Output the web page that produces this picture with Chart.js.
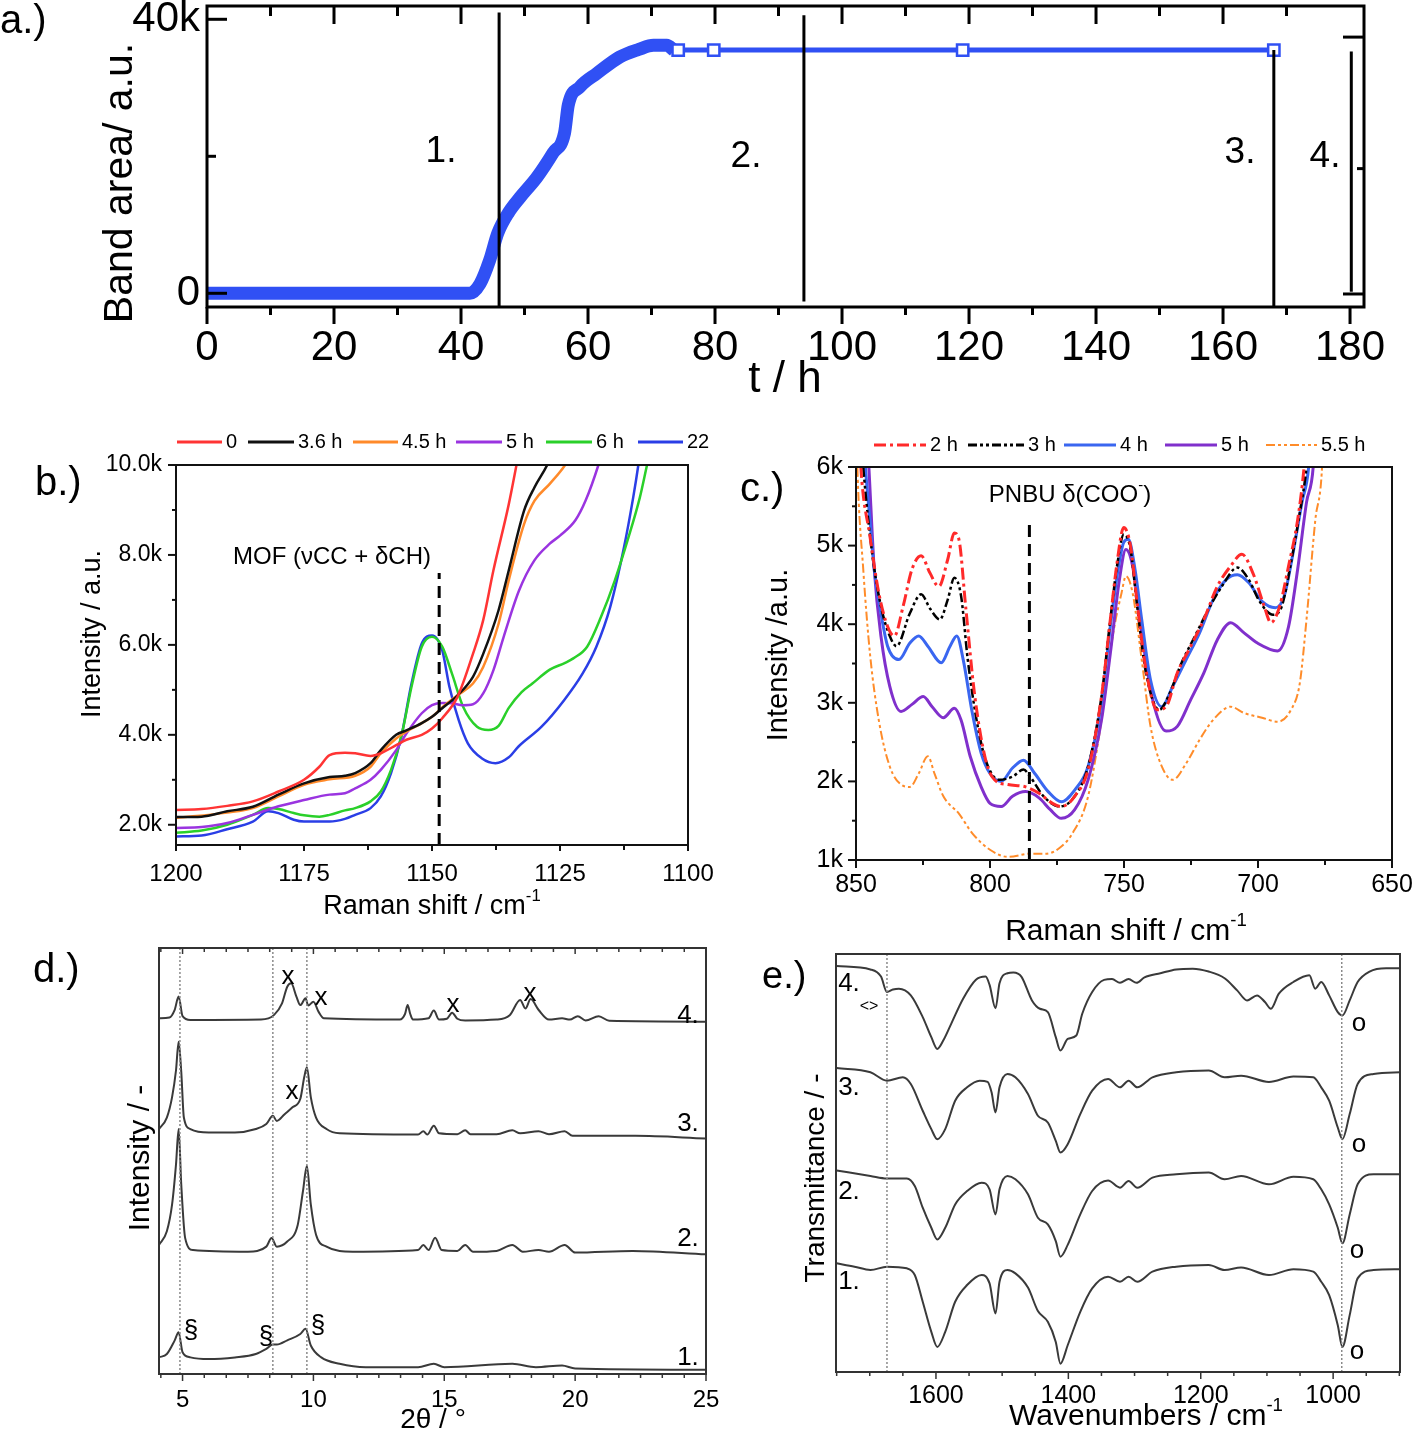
<!DOCTYPE html>
<html><head><meta charset="utf-8">
<script src="https://cdn.jsdelivr.net/npm/chart.js@4.4.1/dist/chart.umd.min.js"></script>
<style>
html,body{margin:0;padding:0;background:#fff;overflow:hidden;width:1418px;height:1433px;position:relative;}
canvas{position:absolute;left:-150px;top:-150px;}
</style></head><body>
<canvas id="ca" width="1718" height="1733"></canvas>
<canvas id="cb" width="1718" height="1733"></canvas>
<canvas id="cc" width="1718" height="1733"></canvas>
<canvas id="cd" width="1718" height="1733"></canvas>
<canvas id="ce" width="1718" height="1733"></canvas>
<script>
// ---------------- DATA ----------------
// a.) band area (k a.u.) vs time (h)
const aBand = [[0,0],[41.4,0],[43,1.4],[44.5,4.8],[45.8,8.8],[47.5,11.8],[49.3,14],[52,17],[54.5,20.5],[56.3,23.4],[56.9,27.5],[58.7,30.1],[61.4,32.1],[65,34.5],[68,35.6],[70.3,36.2],[72.4,36.2],[73.5,35.5]];
const aPlat = [[74.2,35.5],[79.8,35.5],[119,35.5],[168,35.5]];
const aVLines = [[46,-2,41.0],[94,-1.2,40.6],[168,-2,35.5]];
const aBar = [180.2,0.23,35.3];
const aXTicks = [0,20,40,60,80,100,120,140,160,180];
const aXMinor = [10,30,50,70,90,110,130,150,170];
const aYTicks = [0,40];
const aYMinor = [20];
const aRMajor = [-0.1,37.4];
const aRMinor = [18.2];

// b.) Raman, intensity in k
const b0  = [[1200,2.33],[1195,2.35],[1190,2.42],[1185,2.52],[1180,2.74],[1175,3.0],[1172,3.29],[1170,3.55],[1167,3.6],[1165,3.59],[1162,3.53],[1160,3.59],[1157,3.77],[1155,3.89],[1152,4.0],[1150,4.14],[1148,4.37],[1145,4.85],[1142,5.8],[1140,6.55],[1138,7.66],[1135,9.13],[1133.5,10],[1132.5,10.6]];
const b36 = [[1200,2.17],[1195,2.18],[1190,2.3],[1185,2.4],[1180,2.67],[1175,2.92],[1170,3.06],[1167,3.09],[1165,3.15],[1162,3.37],[1160,3.66],[1157,4.0],[1155,4.1],[1152,4.26],[1150,4.4],[1148,4.59],[1145,4.88],[1142,5.29],[1140,5.8],[1137,6.77],[1135,7.66],[1132,8.99],[1130,9.5],[1127.5,10],[1126,10.4]];
const b45 = [[1200,2.15],[1190,2.27],[1185,2.37],[1180,2.63],[1175,2.89],[1170,3.01],[1165,3.09],[1162,3.29],[1160,3.59],[1157,3.92],[1155,4.07],[1152,4.26],[1150,4.4],[1148,4.61],[1145,4.88],[1142,5.14],[1140,5.51],[1137,6.47],[1135,7.44],[1132,8.69],[1130,9.2],[1127,9.58],[1124,10],[1123,10.2]];
const b5  = [[1200,1.93],[1195,1.95],[1190,2.04],[1185,2.22],[1180,2.41],[1175,2.55],[1170,2.67],[1167,2.70],[1165,2.81],[1162,3.0],[1160,3.22],[1157,3.66],[1155,4.03],[1152,4.48],[1150,4.66],[1148,4.71],[1146,4.70],[1144,4.66],[1142,4.68],[1140,4.92],[1138,5.44],[1136,6.18],[1133,7.21],[1130,7.88],[1127,8.25],[1125,8.43],[1122,8.77],[1120,9.21],[1117.5,10],[1116.5,10.4]];
const b6  = [[1200,1.82],[1195,1.87],[1190,2.0],[1185,2.22],[1182,2.37],[1180,2.35],[1177,2.26],[1175,2.21],[1172,2.18],[1170,2.22],[1167,2.32],[1165,2.37],[1162,2.52],[1160,2.74],[1158,3.22],[1156,3.96],[1154,5.07],[1152,5.96],[1150,6.18],[1148,5.96],[1146.1,5.36],[1143.9,4.62],[1141.2,4.18],[1139,4.11],[1137,4.2],[1135,4.6],[1132.5,4.95],[1130.4,5.14],[1127,5.45],[1124,5.6],[1122.4,5.7],[1119.7,5.96],[1117,6.62],[1114.3,7.43],[1111.6,8.4],[1109.4,9.28],[1108,10],[1107,10.5]];
const b22 = [[1200,1.74],[1195,1.76],[1190,1.90],[1185,2.07],[1182,2.30],[1180,2.26],[1177,2.11],[1175,2.07],[1170,2.07],[1167,2.13],[1165,2.22],[1162,2.37],[1160,2.63],[1158,3.15],[1156,3.96],[1154,5.14],[1152,6.03],[1150,6.21],[1148,5.88],[1146.6,5.07],[1144.8,4.33],[1143,3.81],[1140.3,3.48],[1137.6,3.37],[1135,3.5],[1133.1,3.74],[1128.6,4.18],[1124.2,4.77],[1120.6,5.36],[1117.9,5.96],[1115.2,6.84],[1112.5,8.17],[1110.7,9.28],[1109.7,10],[1109,10.6]];
const bMarker = [1148.6,1.55,7.6];
const bXTicks = [1200,1175,1150,1125,1100];
const bXMinor = [1187.5,1162.5,1137.5,1112.5];
const bYTicks = [2,4,6,8,10];
const bYMinor = [3,5,7,9];
const bLabels = ['0','3.6 h','4.5 h','5 h','6 h','22'];

// c.) Raman, intensity in k
const c2  = [[849,6.6],[848.2,6.0],[844.8,5.12],[841.5,4.40],[838.2,3.97],[835.7,3.85],[832.4,4.23],[829.1,4.70],[825.7,4.87],[822.4,4.65],[819.1,4.48],[815.8,4.82],[813.3,5.16],[811.6,5.08],[809.1,4.23],[805.8,3.12],[801.6,2.27],[798.3,2.02],[793.3,1.96],[786.7,1.93],[781.7,1.85],[776.7,1.72],[773.4,1.68],[768.4,1.81],[763.4,2.15],[758.4,3.08],[755.1,4.06],[752.6,4.78],[750.1,5.23],[747.6,5.0],[745.1,4.27],[741.8,3.42],[737.6,2.91],[734.3,2.95],[730.1,3.38],[725.1,3.72],[720.2,4.06],[715.2,4.48],[710.2,4.74],[706.0,4.89],[701.9,4.65],[697.7,4.23],[695.2,4.02],[691.9,4.23],[688.6,4.74],[685.2,5.33],[682.8,6.0],[681.5,6.6]];
const c3  = [[848.5,6.6],[847.3,6.0],[844.0,4.91],[840.7,4.23],[837.4,3.85],[834.9,3.72],[829.9,4.14],[825.7,4.38],[822.4,4.2],[818.7,4.06],[815.8,4.31],[813.3,4.59],[810.8,4.36],[808.3,3.55],[805.0,2.78],[801.6,2.27],[796.6,2.02],[791.6,2.06],[787.5,2.15],[785.0,2.06],[780.0,1.81],[774.2,1.68],[768.4,1.81],[763.4,2.19],[758.4,3.08],[755.1,4.06],[752.6,4.74],[750.1,5.14],[747.6,4.96],[745.1,4.23],[741.8,3.38],[736.8,2.91],[733.5,3.08],[728.5,3.51],[723.5,3.85],[718.5,4.19],[713.5,4.48],[707.7,4.72],[703.5,4.57],[699.4,4.29],[694.4,4.12],[691.1,4.23],[687.7,4.78],[684.4,5.42],[681.9,6.0],[680.5,6.6]];
const c4  = [[848,6.8],[846.5,6.0],[844.8,5.33],[843.2,4.70],[840.7,4.14],[838.2,3.72],[834,3.55],[829.9,3.76],[826.6,3.85],[823.2,3.72],[818.2,3.51],[814.9,3.72],[812.4,3.85],[810,3.55],[806.6,2.87],[803.3,2.36],[800,2.10],[795.8,2.0],[791.6,2.17],[787.5,2.27],[783.3,2.10],[778.3,1.87],[773.4,1.74],[768.4,1.89],[763.4,2.19],[758.4,3.0],[755.1,3.97],[752.6,4.61],[750.1,5.04],[748.4,5.08],[745.9,4.70],[743.4,4.06],[740.1,3.29],[735.9,2.95],[731.8,3.21],[726.8,3.55],[721.8,3.89],[716.8,4.31],[711.8,4.57],[707.7,4.63],[703.5,4.53],[698.5,4.29],[693.5,4.21],[690.2,4.36],[686.9,4.91],[683.6,5.55],[681.1,6.0],[680,6.6]];
const c5  = [[846.5,6.8],[845.2,6.0],[843.2,4.70],[840.7,3.85],[837.4,3.21],[833.2,2.89],[829.1,2.98],[824.9,3.08],[821.6,2.95],[817.4,2.81],[813.3,2.93],[810.8,2.78],[807.4,2.32],[803.3,1.93],[800.0,1.72],[795.8,1.68],[791.6,1.81],[786.7,1.87],[781.7,1.79],[777.5,1.64],[773.4,1.53],[768.4,1.64],[763.4,2.02],[758.4,2.78],[755.1,3.63],[751.7,4.57],[749.3,4.95],[746.8,4.74],[743.4,3.89],[739.3,3.04],[734.3,2.64],[730.1,2.70],[725.1,3.04],[720.2,3.38],[715.2,3.80],[710.2,4.02],[705.2,3.89],[700.2,3.76],[692.7,3.66],[688.6,3.97],[685.2,4.70],[681.9,5.55],[679.4,6.0],[678.5,6.6]];
const c55 = [[849.9,6.6],[849.5,6.0],[847.3,4.70],[844.8,3.63],[841.5,2.78],[837.4,2.19],[833.2,1.96],[829.9,1.93],[826.6,2.10],[823.2,2.32],[820.7,2.10],[817.4,1.81],[811.6,1.59],[806.6,1.34],[800.0,1.13],[793.3,1.04],[785.0,1.08],[779.2,1.08],[774.2,1.15],[769.2,1.34],[763.4,1.81],[758.4,2.78],[754.2,3.85],[750.9,4.40],[749.3,4.61],[746.8,4.40],[743.4,3.55],[740.1,2.70],[735.9,2.19],[731.8,2.02],[726.8,2.23],[721.8,2.53],[716.8,2.78],[710.2,2.95],[705.2,2.87],[698.5,2.81],[692.7,2.76],[687.7,2.91],[684.4,3.25],[681.9,4.06],[678.6,5.33],[676.1,6.0],[675.5,6.6]];
const cMarker = [785.3,1.0,5.35];
const cXTicks = [850,800,750,700,650];
const cXMinor = [825,775,725,675];
const cYTicks = [1,2,3,4,5,6];
const cYMinor = [1.5,2.5,3.5,4.5,5.5];
const cLabels = ['2 h','3 h','4 h','5 h','5.5 h'];

// d.) XRD patterns (stacked, offset scale 0-100)
const d4 = [[4.1,83.5],[4.5,83.7],[4.7,85.5],[4.85,88.6],[5.0,84],[5.3,83.1],[8.0,83.2],[8.5,84.3],[8.8,87],[9.0,90.9],[9.15,91.7],[9.35,88.6],[9.5,86.6],[9.7,88.2],[9.8,86.5],[10.0,87.4],[10.2,85],[10.4,83.5],[13.3,83.2],[13.5,84.5],[13.6,86.6],[13.7,84.5],[13.8,83.2],[14.4,83.5],[14.6,85.3],[14.8,83.2],[15.1,83.4],[15.3,84.8],[15.5,83.4],[15.8,83],[17.0,83.2],[17.5,84.2],[17.9,87.8],[18.1,85.8],[18.3,88],[18.6,85.5],[19.0,83.2],[19.5,83.5],[19.8,83.2],[20.1,84],[20.4,83],[20.9,84],[21.3,82.9],[25,82.7]];
const d3 = [[4.1,57.5],[4.4,60.2],[4.6,65],[4.75,71.3],[4.85,78],[4.95,71],[5.05,60.2],[5.3,57.5],[6,56.7],[7,56.7],[7.8,57.5],[8.2,58.7],[8.45,60.6],[8.6,59.4],[8.9,61],[9.2,62.6],[9.5,64.6],[9.65,69.7],[9.75,72],[9.9,65],[10.1,60.2],[10.5,57.5],[11,56.5],[14,56.2],[14.2,57],[14.35,56.2],[14.6,58.3],[14.8,56.5],[15.5,56.3],[15.8,57.2],[16.0,56.3],[17.0,56.3],[17.6,57.2],[17.9,56.5],[18.6,57],[19.0,56.3],[19.6,57],[19.9,55.9],[22.3,55.9],[25,55.3]];
const d2 = [[4.1,30.3],[4.4,33.5],[4.6,39.8],[4.75,49.2],[4.85,57.5],[4.95,44.5],[5.1,31.9],[5.4,29.1],[7.5,28.7],[8.2,29.9],[8.4,31.9],[8.6,29.9],[9.0,31.1],[9.4,35],[9.6,42.9],[9.75,48.8],[9.9,39.8],[10.1,32.7],[10.5,29.9],[11.5,28.7],[14.0,29.1],[14.2,30.3],[14.4,29.1],[14.65,32],[14.9,29.1],[15.5,28.9],[15.8,30.3],[16.1,28.7],[17.0,28.9],[17.6,30.3],[18.0,28.7],[18.6,29.1],[19.0,28.7],[19.6,30.3],[20.0,28.5],[22.2,28.9],[25,28.1]];
const d1 = [[4.1,3.9],[4.4,4.7],[4.7,7.9],[4.85,9.8],[5.0,5.1],[5.3,3.9],[6.0,3.5],[7.0,3.9],[7.8,4.7],[8.2,5.9],[8.45,6.9],[8.6,6.9],[9.0,7.9],[9.5,9.4],[9.7,10.6],[9.9,6.7],[10.3,3.9],[11,2.4],[12,1.6],[14,1.6],[14.6,2.4],[15,1.6],[17.6,2.4],[18.5,1.6],[19.5,2.0],[20,1.3],[25,1.0]];
const dRefs = [4.9,8.45,9.75];
const dXTicks = [5,10,15,20,25];
const dXMinor = [4.17,5.83,6.67,7.5,8.33,9.17,10.83,11.67,12.5,13.33,14.17,15.83,16.67,17.5,18.33,19.17,20.83,21.67,22.5,23.33,24.17];

// e.) IR spectra (stacked, offset scale 0-100)
const e4 = [[1750,97.1],[1699,96.3],[1683,94.6],[1674,90.9],[1665,91.5],[1656,91.7],[1638,90.1],[1620,84.9],[1607,80.1],[1598,77.3],[1589,79.3],[1577,83.3],[1559,89.3],[1540,93.8],[1525,94.6],[1519,92.6],[1510,87],[1504,93],[1492,95.4],[1483,95.6],[1471,94.6],[1455,88.9],[1443,86.9],[1431,86.1],[1419,80.1],[1412,76.9],[1401,79.7],[1388,80.5],[1379,85.7],[1364,90.9],[1346,93.8],[1334,94],[1322,93.1],[1309,94],[1297,93.1],[1285,94.4],[1261,95.4],[1237,96.3],[1212,96.5],[1188,95.8],[1164,94.2],[1145,91.3],[1130,88.9],[1115,90.1],[1103,88.5],[1094,86.9],[1082,90.5],[1060,93.3],[1036,94.9],[1027,91.7],[1018,93.3],[1006,90.1],[993,86.1],[986,85.3],[975,88.9],[963,93.3],[945,95.8],[920,96.6],[898,96.6]];
const e3 = [[1750,72.7],[1699,71.7],[1674,69.7],[1650,70.5],[1638,68.9],[1620,62.5],[1607,58.1],[1598,55.7],[1586,58.1],[1571,64.9],[1553,68.1],[1534,69.7],[1522,69.4],[1516,66.9],[1510,62.1],[1504,68.1],[1492,71.3],[1480,70.5],[1461,66.5],[1446,61.3],[1431,59.7],[1419,55.3],[1412,52.5],[1401,54.5],[1382,61.7],[1364,67.3],[1340,70.1],[1322,68.1],[1309,69.7],[1296,68.1],[1273,70.5],[1237,71.7],[1188,72.1],[1164,70.5],[1139,70.9],[1097,69.4],[1060,70.7],[1030,70.5],[1018,68.1],[1006,64.9],[993,58.5],[986,55.7],[975,61.7],[963,68.9],[939,71.3],[898,71.7]];
const e2 = [[1750,48.2],[1699,46.9],[1674,46.3],[1644,46.3],[1632,44.5],[1620,39.3],[1607,34.5],[1598,31.7],[1586,34.5],[1571,40.1],[1553,43.3],[1531,45.3],[1519,43.7],[1510,37.7],[1504,43.7],[1492,46.9],[1480,46.1],[1461,42.5],[1446,36.9],[1431,35.3],[1419,31.3],[1412,27.6],[1401,30.4],[1382,37.7],[1364,43.3],[1340,45.8],[1322,44.1],[1309,45.7],[1296,44.1],[1273,46.5],[1237,47.3],[1188,47.7],[1164,46.1],[1139,46.9],[1097,44.9],[1060,46.7],[1030,46.1],[1018,43.7],[1006,40.1],[993,34.5],[986,30.8],[975,37.7],[963,44.9],[939,47.3],[898,47.3]];
const e1 = [[1750,26],[1723,25.2],[1699,24.4],[1674,25.2],[1644,24.8],[1632,23.2],[1620,16.8],[1607,9.6],[1598,6],[1586,9.6],[1571,16.8],[1553,20.8],[1531,23.2],[1519,21.2],[1510,14],[1504,21.6],[1492,24.4],[1480,23.6],[1461,20.2],[1446,14.6],[1431,12],[1419,7.2],[1412,2],[1401,6.4],[1382,14.4],[1364,20],[1340,22.8],[1322,21.6],[1309,22.8],[1296,21.6],[1273,24],[1237,25.2],[1188,25.6],[1164,24.4],[1139,25],[1097,23.2],[1060,24.6],[1030,24],[1018,21.6],[1006,18.4],[993,11.2],[986,6],[975,13.6],[963,22.4],[939,24.4],[898,24.6]];
const eRefs = [1674,987];
const eXTicks = [1600,1400,1200,1000];
const eXMinor = [1750,1700,1650,1550,1500,1450,1350,1300,1250,1150,1100,1050,950,900];

// ---------------- RENDERING ----------------
const M = 150, W = 1418, H = 1433, WY = 130, HX = 100;
const FONT = "'Liberation Sans', Arial, Helvetica, sans-serif";
const DECO = {};

function drawText(ctx, t) {
  const size = t.size;
  const parts = t.parts || [{t: t.text}];
  ctx.save();
  ctx.translate(t.x + M, t.y + M);
  if (t.rot) ctx.rotate(t.rot * Math.PI / 180);
  ctx.fillStyle = t.color || '#000';
  ctx.textBaseline = 'middle';
  ctx.textAlign = 'left';
  const fnt = s => (t.weight || 'normal') + ' ' + s + 'px ' + FONT;
  let w = 0;
  const ms = parts.map(p => { const s = p.sup ? size * 0.62 : size; ctx.font = fnt(s); const m = ctx.measureText(p.t).width; w += m; return {s, m}; });
  let x = t.align === 'left' ? 0 : (t.align === 'right' ? -w : -w / 2);
  parts.forEach((p, i) => { ctx.font = fnt(ms[i].s); ctx.fillText(p.t, x, p.sup ? -size * 0.38 : 0); x += ms[i].m; });
  ctx.restore();
}

Chart.register({
  id: 'deco',
  afterDatasetsDraw(chart) {
    const o = DECO[chart.canvas.id];
    if (!o) return;
    const ctx = chart.ctx, ca = chart.chartArea;
    ctx.save();
    ctx.setLineDash([]);
    ctx.lineCap = 'butt';
    (o.ticks || []).forEach(t => {
      const sc = chart.scales[t.axis];
      ctx.strokeStyle = o.color; ctx.lineWidth = t.lw || o.frame;
      t.values.forEach(v => {
        const p = sc.getPixelForValue(v);
        const s = t.dir === 'out' ? 1 : -1;
        ctx.beginPath();
        if (t.side === 'bottom') { ctx.moveTo(p, ca.bottom); ctx.lineTo(p, ca.bottom + s * t.len); }
        if (t.side === 'top') { ctx.moveTo(p, ca.top); ctx.lineTo(p, ca.top - s * t.len); }
        if (t.side === 'left') { ctx.moveTo(ca.left, p); ctx.lineTo(ca.left - s * t.len, p); }
        if (t.side === 'right') { ctx.moveTo(ca.right, p); ctx.lineTo(ca.right + s * t.len, p); }
        ctx.stroke();
      });
    });
    ctx.strokeStyle = o.color; ctx.lineWidth = o.frame;
    ctx.strokeRect(ca.left, ca.top, ca.right - ca.left, ca.bottom - ca.top);
    (o.legend || []).forEach(l => {
      ctx.save();
      ctx.strokeStyle = l.color; ctx.lineWidth = l.lw; ctx.setLineDash(l.dash || []);
      ctx.beginPath(); ctx.moveTo(l.x1 + M, l.y + M); ctx.lineTo(l.x2 + M, l.y + M); ctx.stroke();
      ctx.restore();
      drawText(ctx, {x: l.x2 + 4, y: l.y, text: l.label, size: l.size, align: 'left'});
    });
    (o.texts || []).forEach(t => drawText(ctx, t));
    ctx.restore();
  }
});

const pts = arr => arr.map(p => ({x: p[0], y: p[1]}));
function curve(arr, color, lw, dash) {
  return {data: pts(arr), borderColor: color, borderWidth: lw, borderDash: dash || [], pointRadius: 0,
          fill: false, cubicInterpolationMode: 'monotone', borderJoinStyle: 'round'};
}
function vline(x, y0, y1, color, lw, dash) {
  return {data: [{x: x, y: y0}, {x: x, y: y1}], borderColor: color, borderWidth: lw, borderDash: dash || [],
          pointRadius: 0, tension: 0, fill: false};
}
function axis(A, horiz) {
  return {
    type: 'linear', position: horiz ? 'bottom' : 'left', min: A.min, max: A.max, reverse: !!A.reverse,
    afterBuildTicks: s => { s.ticks = A.ticks.map(v => ({value: v})); },
    afterFit: s => { if (horiz) s.height = HX; else s.width = WY; },
    ticks: {display: !!A.fmt, callback: v => (A.fmt ? A.fmt(v) : ''), font: {family: FONT, size: A.size || 20},
            color: '#000', padding: A.pad || 8, maxRotation: 0, minRotation: 0, autoSkip: false},
    grid: {display: false, drawTicks: false},
    border: {display: false}
  };
}
function build(id, P, X, Y, datasets, deco) {
  DECO[id] = deco;
  new Chart(document.getElementById(id), {
    type: 'line',
    data: {datasets: datasets},
    options: {
      responsive: false, animation: false, events: [],
      layout: {padding: {left: P.L + M - WY, top: P.T + M, right: W - P.R + M, bottom: H - P.B + M - HX}},
      plugins: {legend: {display: false}, tooltip: {enabled: false}},
      scales: {x: axis(X, true), y: axis(Y, false)}
    }
  });
}

// ---- a.)
const BLUE_A = '#3050f4';
build('ca', {L: 207, T: 6, R: 1364, B: 307},
  {min: 0, max: 182.2, ticks: aXTicks, fmt: v => String(v), size: 42, pad: 16},
  {min: -2.0, max: 41.94, ticks: aYTicks, fmt: v => (v === 0 ? '0' : v + 'k'), size: 42, pad: 7},
  [
    ...aVLines.map(l => vline(l[0], l[1], l[2], '#000', 3)),
    vline(aBar[0], aBar[1], aBar[2], '#000', 3),
    {data: pts(aPlat), borderColor: BLUE_A, borderWidth: 5, pointStyle: 'rect', pointRadius: 8,
     pointBorderWidth: 2.5, pointBackgroundColor: '#fff', pointBorderColor: BLUE_A, tension: 0, fill: false},
    {data: pts(aBand), borderColor: BLUE_A, borderWidth: 13, pointRadius: 0, cubicInterpolationMode: 'monotone',
     borderCapStyle: 'butt', fill: false}
  ],
  {color: '#000', frame: 3,
   ticks: [
     {axis: 'x', side: 'bottom', values: aXTicks, len: 17, dir: 'out', lw: 3},
     {axis: 'x', side: 'bottom', values: aXMinor, len: 8, dir: 'out', lw: 3},
     {axis: 'x', side: 'top', values: aXTicks.slice(1, 9), len: 18, dir: 'in', lw: 3},
     {axis: 'x', side: 'top', values: aXMinor, len: 10, dir: 'in', lw: 3},
     {axis: 'y', side: 'left', values: aYTicks, len: 20, dir: 'in', lw: 3},
     {axis: 'y', side: 'left', values: aYMinor, len: 9, dir: 'in', lw: 3},
     {axis: 'y', side: 'right', values: aRMajor, len: 21, dir: 'in', lw: 3},
     {axis: 'y', side: 'right', values: aRMinor, len: 7, dir: 'in', lw: 3}
   ],
   texts: [
     {x: 0, y: 22, text: 'a.)', size: 40, align: 'left'},
     {x: 785, y: 380, text: 't / h', size: 44},
     {x: 121, y: 183, text: 'Band area/ a.u.', size: 41, rot: -90},
     {x: 441, y: 152, text: '1.', size: 37},
     {x: 746, y: 157, text: '2.', size: 37},
     {x: 1240, y: 153, text: '3.', size: 37},
     {x: 1325, y: 157, text: '4.', size: 37}
   ]});

// ---- b.)
const bCol = ['#ff3434', '#111111', '#ff8a2a', '#9a34e0', '#2ad02a', '#2a3ee6'];
build('cb', {L: 176, T: 465, R: 688, B: 845},
  {min: 1100, max: 1200, reverse: true, ticks: bXTicks, fmt: v => String(v), size: 24, pad: 15},
  {min: 1.55, max: 10, ticks: bYTicks, fmt: v => v.toFixed(1) + 'k', size: 23, pad: 14},
  [
    vline(bMarker[0], bMarker[1], bMarker[2], '#000', 3, [12, 7]),
    curve(b0, bCol[0], 2.5), curve(b36, bCol[1], 2.5), curve(b45, bCol[2], 2.5),
    curve(b5, bCol[3], 2.5), curve(b6, bCol[4], 2.5), curve(b22, bCol[5], 2.5)
  ],
  {color: '#111', frame: 2,
   ticks: [
     {axis: 'x', side: 'bottom', values: bXTicks, len: 6, dir: 'out', lw: 2},
     {axis: 'x', side: 'bottom', values: bXMinor, len: 5, dir: 'out', lw: 2},
     {axis: 'y', side: 'left', values: bYTicks, len: 8, dir: 'out', lw: 2},
     {axis: 'y', side: 'left', values: bYMinor, len: 4, dir: 'out', lw: 2}
   ],
   legend: [
     {x1: 177, x2: 222, y: 442, color: bCol[0], lw: 3, label: bLabels[0], size: 20},
     {x1: 248, x2: 294, y: 442, color: bCol[1], lw: 3, label: bLabels[1], size: 20},
     {x1: 353, x2: 398, y: 442, color: bCol[2], lw: 3, label: bLabels[2], size: 20},
     {x1: 456, x2: 502, y: 442, color: bCol[3], lw: 3, label: bLabels[3], size: 20},
     {x1: 546, x2: 592, y: 442, color: bCol[4], lw: 3, label: bLabels[4], size: 20},
     {x1: 638, x2: 683, y: 442, color: bCol[5], lw: 3, label: bLabels[5], size: 20}
   ],
   texts: [
     {x: 35, y: 484, text: 'b.)', size: 40, align: 'left'},
     {x: 332, y: 557, text: 'MOF (\u03bdCC + \u03b4CH)', size: 24},
     {x: 432, y: 907, parts: [{t: 'Raman shift / cm'}, {t: '-1', sup: true}], size: 27},
     {x: 93, y: 634, text: 'Intensity / a.u.', size: 27, rot: -90}
   ]});

// ---- c.)
const cCol = ['#ff2a2a', '#000000', '#3a66f0', '#8030cc', '#ff8c2a'];
const cDash = [[12, 4, 3, 4], [9, 3, 3, 3, 3, 3], [], [], [9, 3, 3, 3, 3, 3]];
build('cc', {L: 856, T: 467, R: 1392, B: 860},
  {min: 650, max: 850, reverse: true, ticks: cXTicks, fmt: v => String(v), size: 25, pad: 10},
  {min: 1, max: 6, ticks: cYTicks, fmt: v => v + 'k', size: 25, pad: 13},
  [
    vline(cMarker[0], cMarker[1], cMarker[2], '#000', 3, [12, 7]),
    curve(c2, cCol[0], 3, cDash[0]), curve(c3, cCol[1], 2.5, cDash[1]), curve(c4, cCol[2], 3),
    curve(c5, cCol[3], 3), curve(c55, cCol[4], 2, cDash[4])
  ],
  {color: '#111', frame: 2,
   ticks: [
     {axis: 'x', side: 'bottom', values: cXTicks, len: 8, dir: 'out', lw: 2},
     {axis: 'x', side: 'bottom', values: cXMinor, len: 5, dir: 'out', lw: 2},
     {axis: 'y', side: 'left', values: cYTicks, len: 8, dir: 'out', lw: 2},
     {axis: 'y', side: 'left', values: cYMinor, len: 4, dir: 'out', lw: 2}
   ],
   legend: [
     {x1: 874, x2: 926, y: 445, color: cCol[0], lw: 3, dash: cDash[0], label: cLabels[0], size: 20},
     {x1: 968, x2: 1024, y: 445, color: cCol[1], lw: 3, dash: cDash[1], label: cLabels[1], size: 20},
     {x1: 1064, x2: 1116, y: 445, color: cCol[2], lw: 3, label: cLabels[2], size: 20},
     {x1: 1165, x2: 1217, y: 445, color: cCol[3], lw: 3, label: cLabels[3], size: 20},
     {x1: 1266, x2: 1317, y: 445, color: cCol[4], lw: 2, dash: cDash[4], label: cLabels[4], size: 20}
   ],
   texts: [
     {x: 740, y: 490, text: 'c.)', size: 40, align: 'left'},
     {x: 1070, y: 495, parts: [{t: 'PNBU \u03b4(COO'}, {t: '-', sup: true}, {t: ')'}], size: 24},
     {x: 1126, y: 932, parts: [{t: 'Raman shift / cm'}, {t: '-1', sup: true}], size: 30},
     {x: 779, y: 655, text: 'Intensity /a.u.', size: 29, rot: -90}
   ]});

// ---- d.)
const GRAY = '#3a3a3a', DOT = '#8a8a8a';
build('cd', {L: 159, T: 948, R: 706, B: 1374},
  {min: 4.1, max: 25, ticks: dXTicks, fmt: v => String(v), size: 24, pad: 12},
  {min: 0, max: 100, ticks: [0, 100], fmt: null},
  [
    ...dRefs.map(x => vline(x, 0, 100, DOT, 1.5, [2, 2])),
    curve(d4, GRAY, 2), curve(d3, GRAY, 2), curve(d2, GRAY, 2), curve(d1, GRAY, 2)
  ],
  {color: '#333', frame: 2,
   ticks: [
     {axis: 'x', side: 'bottom', values: dXTicks, len: 7, dir: 'out', lw: 1.5},
     {axis: 'x', side: 'bottom', values: dXMinor, len: 4, dir: 'out', lw: 1.5},
     {axis: 'x', side: 'top', values: dXTicks, len: 6, dir: 'in', lw: 1.5},
     {axis: 'x', side: 'top', values: dXMinor, len: 4, dir: 'in', lw: 1.5}
   ],
   texts: [
     {x: 33, y: 971, text: 'd.)', size: 40, align: 'left'},
     {x: 433, y: 1420, text: '2\u03b8 / \u00b0', size: 28},
     {x: 141, y: 1158, text: 'Intensity / -', size: 30, rot: -90},
     {x: 288, y: 977, text: 'x', size: 26}, {x: 321, y: 998, text: 'x', size: 26},
     {x: 453, y: 1005, text: 'x', size: 26}, {x: 530, y: 994, text: 'x', size: 26},
     {x: 292, y: 1092, text: 'x', size: 26},
     {x: 191, y: 1331, text: '\u00a7', size: 26}, {x: 266, y: 1337, text: '\u00a7', size: 26},
     {x: 318, y: 1326, text: '\u00a7', size: 26},
     {x: 688, y: 1016, text: '4.', size: 26}, {x: 688, y: 1124, text: '3.', size: 26},
     {x: 688, y: 1239, text: '2.', size: 26}, {x: 688, y: 1358, text: '1.', size: 26}
   ]});

// ---- e.)
build('ce', {L: 836, T: 954, R: 1400, B: 1372},
  {min: 899, max: 1751, reverse: true, ticks: eXTicks, fmt: v => String(v), size: 25, pad: 9},
  {min: 0, max: 100, ticks: [0, 100], fmt: null},
  [
    ...eRefs.map(x => vline(x, 0, 100, DOT, 1.5, [2, 2])),
    curve(e4, GRAY, 2), curve(e3, GRAY, 2), curve(e2, GRAY, 2), curve(e1, GRAY, 2)
  ],
  {color: '#333', frame: 2,
   ticks: [
     {axis: 'x', side: 'bottom', values: eXTicks, len: 7, dir: 'out', lw: 1.5},
     {axis: 'x', side: 'bottom', values: eXMinor, len: 4, dir: 'out', lw: 1.5}
   ],
   texts: [
     {x: 762, y: 978, text: 'e.)', size: 38, align: 'left'},
     {x: 1146, y: 1417, parts: [{t: 'Wavenumbers / cm'}, {t: '-1', sup: true}], size: 30},
     {x: 816, y: 1178, text: 'Transmittance / -', size: 28, rot: -90},
     {x: 849, y: 984, text: '4.', size: 26}, {x: 849, y: 1088, text: '3.', size: 26},
     {x: 849, y: 1192, text: '2.', size: 26}, {x: 849, y: 1282, text: '1.', size: 26},
     {x: 869, y: 1007, text: '<>', size: 16},
     {x: 1359, y: 1024, text: 'o', size: 26}, {x: 1359, y: 1145, text: 'o', size: 26},
     {x: 1357, y: 1251, text: 'o', size: 26}, {x: 1357, y: 1352, text: 'o', size: 26}
   ]});
</script>
</body></html>
